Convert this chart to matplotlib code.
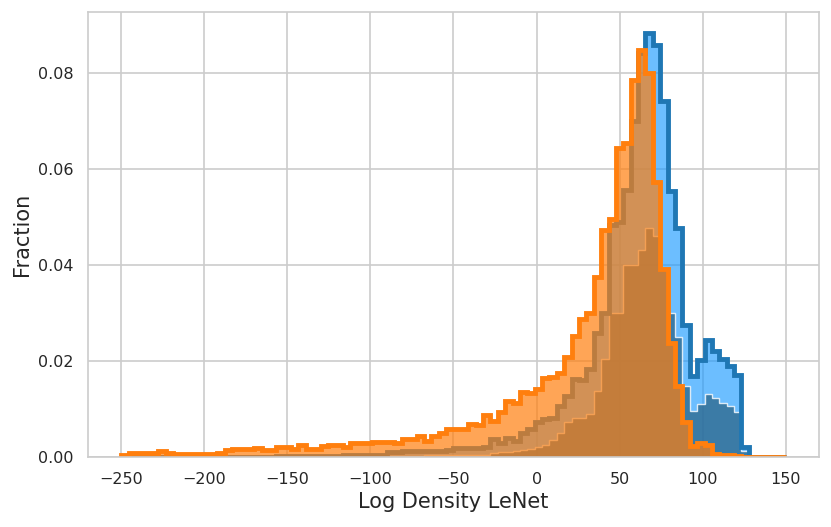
import numpy as np
import matplotlib
matplotlib.use("Agg")
import matplotlib.pyplot as plt
import seaborn as sns

# bins used for all three histograms
edges = np.linspace(-250, 150, 91)

# in-distribution total (blue outline)
blue_total = [0.0] * 21 + [
    0.0002, 0.0002, 0.0002, 0.0002, 0.0002, 0.0002, 0.0002, 0.0002, 0.0002,
    0.0004, 0.0004, 0.0004, 0.0004, 0.0004, 0.0004,
    0.0010, 0.0011, 0.0012, 0.0012, 0.0012, 0.0012, 0.0013, 0.0013, 0.0015,
    0.0018, 0.0018, 0.0018, 0.0018, 0.0020, 0.0037, 0.0030, 0.0040, 0.0033,
    0.0050, 0.0058, 0.0072, 0.0079, 0.0082, 0.0106, 0.0127, 0.0162, 0.0160,
    0.0183, 0.0259, 0.0301, 0.0484, 0.0490, 0.0557, 0.0700, 0.0842, 0.0883,
    0.0859, 0.0741, 0.0554, 0.0476, 0.0276, 0.0168, 0.0202, 0.0244, 0.0220,
    0.0204, 0.0190, 0.0170, 0.0021, 0.0, 0.0, 0.0, 0.0, 0.0]

# in-distribution subset (dark inner)
blue_inner = [0.0] * 30 + [0.0003] * 11 + [0.0005] * 9 + [
    0.0008, 0.0010, 0.0010, 0.0012, 0.0014, 0.0016, 0.0020, 0.0025, 0.0035,
    0.0050, 0.0072, 0.0082, 0.0082, 0.0090, 0.0138, 0.0204, 0.0300, 0.0300,
    0.0401, 0.0401, 0.0432, 0.0478, 0.0460, 0.0394, 0.0301, 0.0249, 0.0148,
    0.0096, 0.0110, 0.0131, 0.0122, 0.0113, 0.0106, 0.0093, 0.0013,
    0.0, 0.0, 0.0, 0.0, 0.0]

# out-of-distribution (orange)
orange = [
    0.0004, 0.0008, 0.0008, 0.0008, 0.0009, 0.0012, 0.0008, 0.0007, 0.0007,
    0.0007, 0.0007, 0.0007, 0.0007, 0.0009, 0.0015, 0.0017, 0.0017, 0.0017,
    0.0018, 0.0015, 0.0015, 0.0021, 0.0020, 0.0016, 0.0024, 0.0017, 0.0016,
    0.0023, 0.0025, 0.0025, 0.0021, 0.0029, 0.0030, 0.0030, 0.0031, 0.0031,
    0.0031, 0.0030, 0.0038, 0.0038, 0.0043, 0.0033, 0.0044, 0.0051, 0.0059,
    0.0059, 0.0059, 0.0068, 0.0066, 0.0087, 0.0074, 0.0093, 0.0117, 0.0112,
    0.0136, 0.0133, 0.0141, 0.0165, 0.0166, 0.0176, 0.0209, 0.0252, 0.0288,
    0.0301, 0.0376, 0.0473, 0.0496, 0.0644, 0.0655, 0.0786, 0.0847, 0.0799,
    0.0573, 0.0391, 0.0238, 0.0148, 0.0072, 0.0023, 0.0030, 0.0025, 0.0006,
    0.0005, 0.0004, 0.0003, 0.0001, 0.0, 0.0, 0.0, 0.0, 0.0]

xticks = [-250, -200, -150, -100, -50, 0, 50, 100, 150]
yticks = [0.00, 0.02, 0.04, 0.06, 0.08]

sns.set_style("whitegrid")
plt.rcParams['font.family'] = ['DejaVu Sans']

fig = plt.figure(figsize=(8.31, 5.27), dpi=100)
ax = fig.add_axes([88 / 831, 70 / 527, 731 / 831, 445 / 527])
ax.set_axisbelow(True)
ax.grid(True, color='#cccccc', lw=1.2)

ax.stairs(blue_total, edges, fill=True, color='#1e9bff', alpha=0.65, lw=0)
ax.stairs(blue_inner, edges, fill=True, facecolor='#2f6a90', alpha=0.8,
          edgecolor='white', lw=1.0)
ax.stairs(blue_total, edges, color='#1f77b4', lw=3.5)
ax.stairs(orange, edges, fill=True, color='#ff7f0e', alpha=0.7, lw=0)
ax.stairs(orange, edges, color='#ff7f0e', lw=3.5)

ax.set_xlim(-270, 170)
ax.set_ylim(0, 0.0927)
ax.set_xticks(xticks)
ax.set_yticks(yticks)
ax.tick_params(length=0, pad=10.5, labelsize=11.5, colors='#262626')
for s in ax.spines.values():
    s.set_color('#cccccc')
    s.set_linewidth(1.2)

ax.set_xlabel("Log Density LeNet", fontsize=15, color='#262626')
ax.set_ylabel("Fraction", fontsize=15, color='#262626')

fig.savefig("out.png", dpi=100)
